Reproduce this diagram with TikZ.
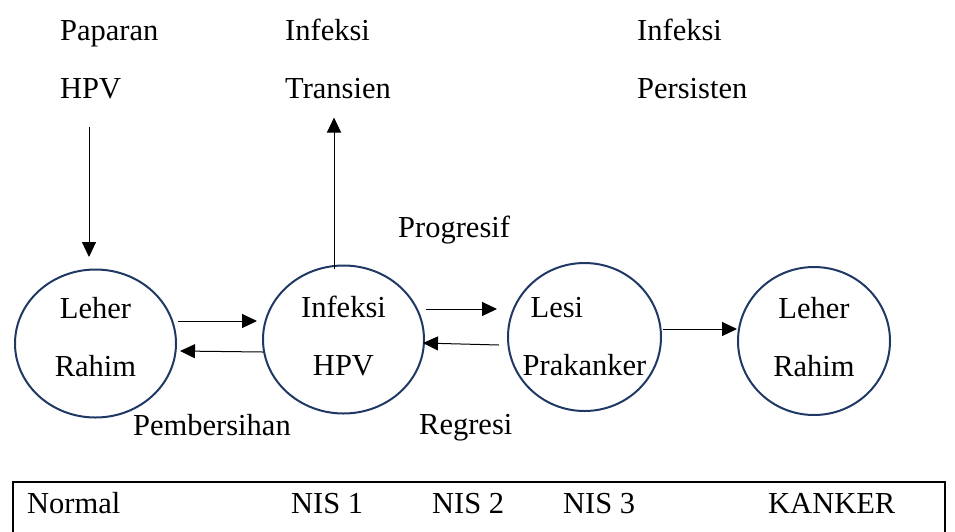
\documentclass[tikz,border=0pt]{standalone}
\usepackage{fontspec}
\setmainfont{Liberation Serif}
\usetikzlibrary{shapes.geometric, positioning, arrows.meta, calc}

\definecolor{stageblue}{HTML}{1F3864}
\tikzset{
    stage/.style={ellipse, draw=stageblue, line width=2pt, minimum width=161pt, minimum height=148pt, inner sep=0pt, outer sep=0pt, align=center},
    lift/.style={execute at end node={\rule[-#1]{0pt}{0pt}}},
    caption/.style={anchor=base west, inner sep=0pt, align=left},
    flow/.style={-{Triangle[length=15pt,width=14pt]}, line width=1pt},
}

\begin{document}
\begin{tikzpicture}[x=1pt, y=-1pt, font=\fontsize{30.5}{58}\selectfont]
        \useasboundingbox (0,0) rectangle (955,531);
        \clip (0,0) rectangle (955,531);

        \node[stage, lift=14pt] (normal) at (95.5,343.5) {Leher\\Rahim};
        \node[stage, lift=8pt, right=87pt of normal, yshift=4pt] (infection) {Infeksi\\HPV};
        \node[stage, minimum width=153pt, inner xsep=-10pt, right=84pt of infection, yshift=2.5pt, align=left] (lesion) {\hspace*{8pt}Lesi\\Prakanker};
        \node[stage, lift=8pt, minimum width=152pt, right=77pt of lesion, yshift=-4pt] (cancer) {Leher\\Rahim};

        \node[caption] (exposure) at (60,98) {Paparan\\HPV};
        \node[caption] (transient) at (285,98) {Infeksi\\Transien};
        \node[caption] (persistent) at (637,98) {Infeksi\\Persisten};

        \node[caption] (progress) at (398,237) {Progresif};
        \node[caption] (clearance) at (133,435) {Pembersihan};
        \node[caption] (regress) at (419,434) {Regresi};

        % grading bar at the bottom
        \node[draw, line width=1.7pt, anchor=north west, minimum width=932pt, minimum height=80pt, inner sep=0pt] (grade) at (12,481) {};
        \node[caption] (gnormal) at (27,513) {Normal};
        \node[caption] (gnis1) at (291,513) {NIS 1};
        \node[caption] (gnis2) at (432,513) {NIS 2};
        \node[caption] (gnis3) at (563,513) {NIS 3};
        \node[caption] (gcancer) at (768,513) {KANKER};

        \draw
        ($(exposure.south west)+(29,28)$) edge[flow] ($(normal.north)+(-6.5,-12.5)$)
        ($(infection.north)+(-9.5,3)$) edge[flow] ($(transient.south west)+(49,19)$)
        ($(normal.east)+(2,-22.5)$) edge[flow] ($(infection.west)+(-6,-18.5)$)
        ($(infection.west)+(0,12.5)$) edge[flow] ($(normal.east)+(4,7.5)$)
        ($(infection.east)+(2,-30.5)$) edge[flow] ($(lesion.west)+(-11,-28)$)
        ($(lesion.west)+(-9,8)$) edge[flow] ($(infection.east)+(-1,3.5)$)
        ($(lesion.east)+(2,-8)$) edge[flow] ($(cancer.west)+(-1,-12)$)
        ;
\end{tikzpicture}
\end{document}
